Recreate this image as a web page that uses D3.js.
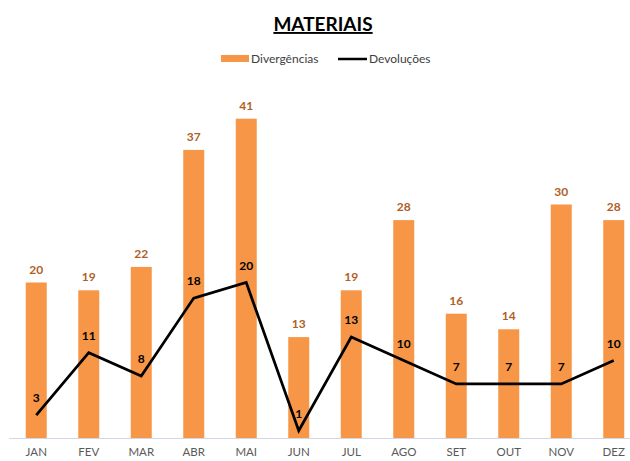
<!DOCTYPE html>
<html>
<head>
  <meta charset="utf-8">
  <script src="https://d3js.org/d3.v7.min.js"></script>
  <style>
    body { margin: 0; background: #fff; }
    text { font-family: Lato, "Open Sans", sans-serif; }
  </style>
</head>
<body>
<script>
  // data
  var months = ["JAN", "FEV", "MAR", "ABR", "MAI", "JUN", "JUL", "AGO", "SET", "OUT", "NOV", "DEZ"];
  var divergencias = [20, 19, 22, 37, 41, 13, 19, 28, 16, 14, 30, 28];
  var devolucoes = [3, 11, 8, 18, 20, 1, 13, 10, 7, 7, 7, 10];

  var width = 630, height = 461;
  var svg = d3.select("body").append("svg")
      .attr("width", width)
      .attr("height", height);

  var x = d3.scaleBand().domain(months).range([10, 640]).paddingInner(0.6).paddingOuter(0.3);
  var y = d3.scaleLinear().domain([0, 45]).range([438.5, 87.5]);

  // title
  svg.append("text")
      .attr("x", 323).attr("y", 31)
      .attr("text-anchor", "middle")
      .style("font-size", "19px").style("font-weight", "bold")
      .style("text-decoration", "underline")
      .attr("fill", "#000")
      .text("MATERIAIS");

  // legend
  var lg = svg.append("g");
  lg.append("rect").attr("x", 221).attr("y", 55).attr("width", 28).attr("height", 7).attr("fill", "#F79646");
  lg.append("text").attr("x", 251).attr("y", 63).style("font-size", "12px").attr("fill", "#404040").text("Divergências");
  lg.append("line").attr("x1", 338).attr("x2", 367).attr("y1", 59).attr("y2", 59)
      .attr("stroke", "#000").attr("stroke-width", 2.5);
  lg.append("text").attr("x", 369).attr("y", 63).style("font-size", "12px").attr("fill", "#404040").text("Devoluções");

  // bars
  svg.selectAll("rect.bar")
    .data(divergencias)
    .enter().append("rect")
      .attr("class", "bar")
      .attr("x", function (d, i) { return x(months[i]); })
      .attr("width", x.bandwidth())
      .attr("y", function (d) { return y(d); })
      .attr("height", function (d) { return y(0) - y(d); })
      .attr("fill", "#F79646");

  svg.selectAll("text.barlab")
    .data(divergencias)
    .enter().append("text")
      .attr("class", "barlab")
      .attr("x", function (d, i) { return x(months[i]) + x.bandwidth() / 2; })
      .attr("y", function (d) { return y(d) - 9; })
      .attr("text-anchor", "middle")
      .style("font-size", "12px").style("font-weight", "bold")
      .attr("fill", "#B05E26")
      .text(function (d) { return d; });

  // axis baseline
  var xAxis = svg.append("g")
      .attr("transform", "translate(0," + y(0) + ")")
      .call(d3.axisBottom(x).tickSize(0).tickPadding(9));
  xAxis.select(".domain").attr("d", "M9,0H630").attr("stroke", "#D0D7E5");
  xAxis.selectAll("text")
      .style("font-size", "11.5px")
      .style("font-family", "Lato, 'Open Sans', sans-serif")
      .attr("fill", "#595959");

  // line
  var line = d3.line()
      .x(function (d, i) { return x(months[i]) + x.bandwidth() / 2; })
      .y(function (d) { return y(d); });

  svg.append("path")
      .datum(devolucoes)
      .attr("d", line)
      .attr("fill", "none")
      .attr("stroke", "#000")
      .attr("stroke-width", 2.75)
      .attr("stroke-linejoin", "miter");

  svg.selectAll("text.linelab")
    .data(devolucoes)
    .enter().append("text")
      .attr("class", "linelab")
      .attr("x", function (d, i) { return x(months[i]) + x.bandwidth() / 2; })
      .attr("y", function (d) { return y(d) - 13; })
      .attr("text-anchor", "middle")
      .style("font-size", "12px").style("font-weight", "bold")
      .attr("fill", "#000")
      .text(function (d) { return d; });
</script>
</body>
</html>
